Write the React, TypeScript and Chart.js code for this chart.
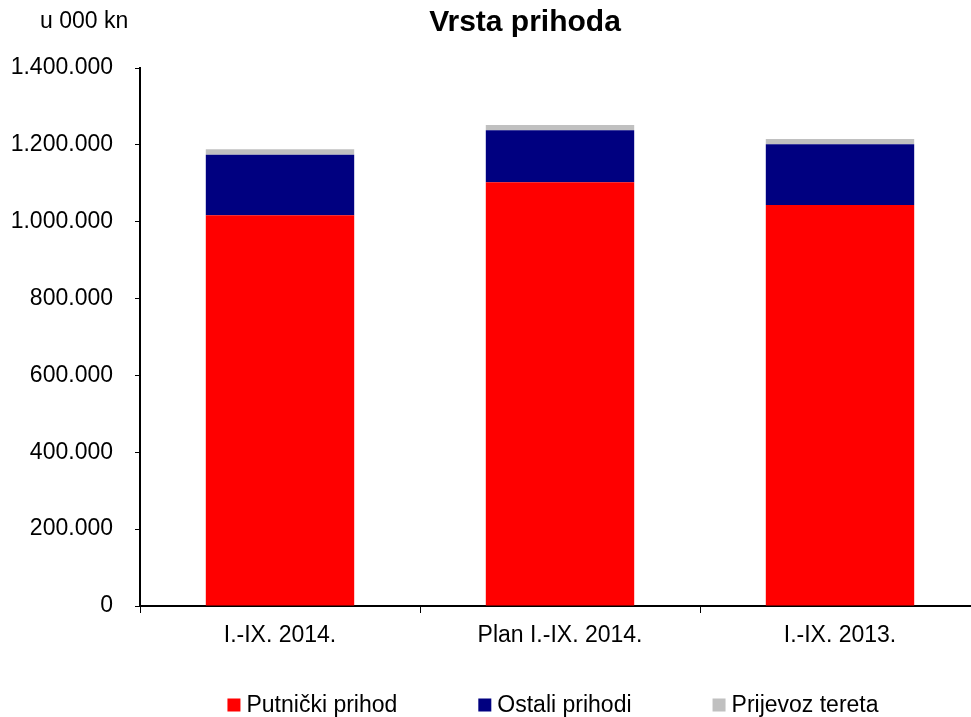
import React, { useEffect, useRef } from "react";
import { Chart, registerables } from "chart.js";

Chart.register(...registerables);

const categories = ["I.-IX. 2014.", "Plan I.-IX. 2014.", "I.-IX. 2013."];
const putnicki = [1016700, 1102500, 1043500];
const ostali = [157700, 135300, 157900];
const prijevoz = [14000, 13800, 13800];
const seriesNames = ["Putnički prihod", "Ostali prihodi", "Prijevoz tereta"];
const seriesColors = ["#FF0000", "#000080", "#C0C0C0"];
const yTicks = [0, 200000, 400000, 600000, 800000, 1000000, 1200000, 1400000];

const FONT = "'Liberation Sans', Arial, sans-serif";
const FS = 23;

const fmt = (v: number) =>
  Math.round(v)
    .toString()
    .replace(/\B(?=(\d{3})+(?!\d))/g, ".");

const textPlugin = {
  id: "texts",
  afterDraw(chart: any) {
    const ctx = chart.ctx;
    ctx.save();
    ctx.fillStyle = "#000";
    ctx.textBaseline = "middle";
    // title
    ctx.font = `bold 30px ${FONT}`;
    ctx.textAlign = "center";
    ctx.fillText("Vrsta prihoda", 525, 23);
    // unit
    ctx.font = `${FS}px ${FONT}`;
    ctx.textAlign = "left";
    ctx.fillText("u 000 kn", 40, 22);
    // legend
    const ds = chart.data.datasets;
    const box = 13;
    const gapText = 6;
    const gapItem = 81;
    const widths = ds.map((d: any) => ctx.measureText(d.label).width);
    const total =
      widths.reduce((a: number, w: number) => a + w + box + gapText, 0) +
      gapItem * (ds.length - 1);
    let x = 553 - total / 2;
    const y = 705;
    ds.forEach((d: any, i: number) => {
      ctx.fillStyle = d.backgroundColor;
      ctx.fillRect(x, y - box / 2, box, box);
      ctx.fillStyle = "#000";
      ctx.fillText(d.label, x + box + gapText, y + 1);
      x += box + gapText + widths[i] + gapItem;
    });
    ctx.restore();
  },
};

export default function App() {
  const ref = useRef<HTMLCanvasElement | null>(null);
  useEffect(() => {
    document.body.style.margin = "0";
    document.body.style.overflow = "hidden";
    document.documentElement.style.overflow = "hidden";
    if (!ref.current) return;
    const values = [putnicki, ostali, prijevoz];
    const chart = new Chart(ref.current, {
      type: "bar",
      data: {
        labels: categories,
        datasets: values.map((v, i) => ({
          label: seriesNames[i],
          data: v,
          backgroundColor: seriesColors[i],
          borderWidth: 0,
          barPercentage: 0.53,
          categoryPercentage: 1,
        })),
      },
      options: {
        animation: false,
        responsive: false,
        maintainAspectRatio: false,
        layout: { padding: { top: 68, right: 2, left: 0, bottom: 0 } },
        plugins: {
          legend: { display: false },
          title: { display: false },
          tooltip: { enabled: false },
        },
        scales: {
          x: {
            stacked: true,
            grid: {
              offset: true,
              drawOnChartArea: false,
              drawTicks: true,
              tickLength: 7,
              color: "#000",
            },
            border: { color: "#000", width: 2 },
            ticks: {
              color: "#000",
              font: { family: FONT, size: FS },
              padding: 9,
              maxRotation: 0,
            },
            afterFit: (s: any) => {
              s.height = 111;
            },
          },
          y: {
            stacked: true,
            min: 0,
            max: 1400000,
            afterBuildTicks: (s: any) => {
              s.ticks = yTicks.map((v) => ({ value: v }));
            },
            ticks: {
              color: "#000",
              font: { family: FONT, size: FS },
              padding: 22,
              callback: (v: any) => fmt(Number(v)),
            },
            grid: {
              drawOnChartArea: false,
              drawTicks: true,
              tickLength: 5,
              color: "#000",
            },
            border: { color: "#000", width: 2 },
            afterFit: (s: any) => {
              s.width = 140;
            },
          },
        },
      },
      plugins: [textPlugin],
    });
    return () => chart.destroy();
  }, []);
  return (
    <div style={{ width: 982, height: 717 }}>
      <canvas ref={ref} width={982} height={717} style={{ display: "block" }} />
    </div>
  );
}
